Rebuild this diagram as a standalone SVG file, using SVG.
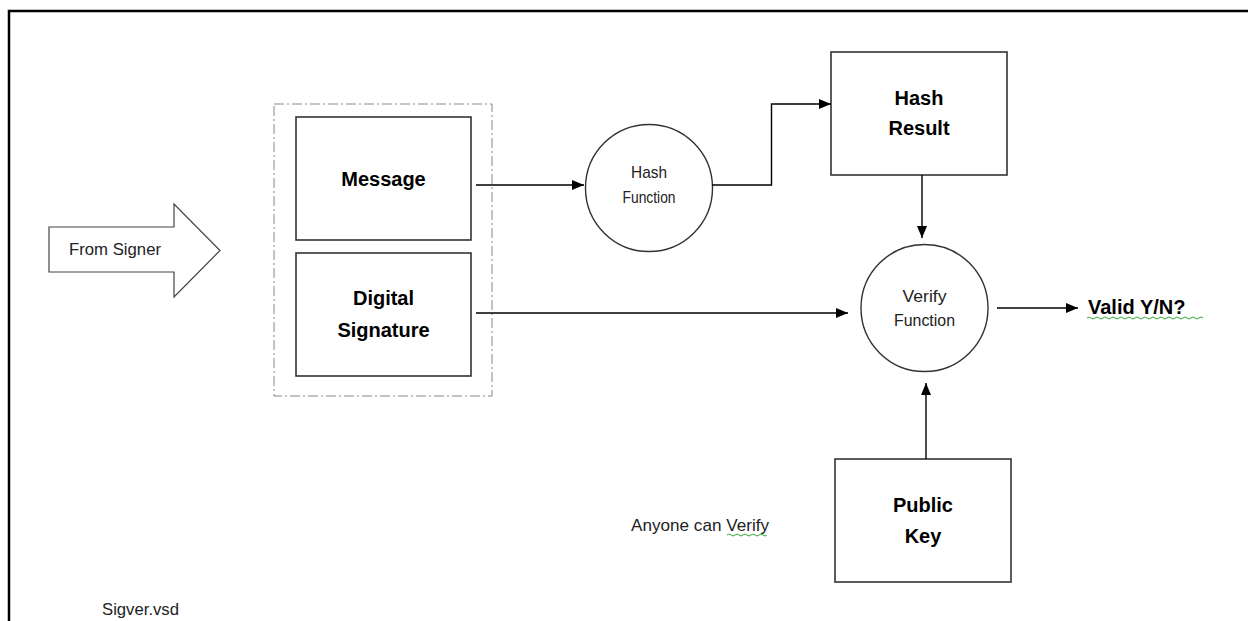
<svg xmlns="http://www.w3.org/2000/svg" width="1248" height="621" viewBox="0 0 1248 621">
<defs>
<marker id="ah" markerWidth="12" markerHeight="10" refX="12" refY="5" orient="auto" markerUnits="userSpaceOnUse">
<path d="M0,0 L12,5 L0,10 Z" fill="#000"/>
</marker>
<style>
.box{fill:#fff;stroke:#333;stroke-width:1.6}
.circ{fill:#fff;stroke:#333;stroke-width:1.4}
.bold{font-family:"Liberation Sans",Arial,sans-serif;font-weight:bold;font-size:20px;fill:#000;text-anchor:middle}
.reg{font-family:"Liberation Sans",Arial,sans-serif;font-size:17px;fill:#222}
.mid{text-anchor:middle}
.conn{fill:none;stroke:#000;stroke-width:1.4;marker-end:url(#ah)}
.squig{fill:none;stroke:#3a3;stroke-width:1}
</style>
</defs>
<rect width="1248" height="621" fill="#fff"/>
<path d="M9,640 L9,11 L1260,11" fill="none" stroke="#000" stroke-width="2.5"/>

<g id="from-signer">
<path d="M49,227 L174,227 L174,204 L220,250.5 L174,297 L174,272 L49,272 Z" fill="#fff" stroke="#444" stroke-width="1.2"/>
<text class="reg" x="69" y="255" font-size="17" textLength="92" lengthAdjust="spacingAndGlyphs">From Signer</text>
</g>

<g id="group-border">
<rect x="274" y="104" width="218" height="292" fill="none" stroke="#888" stroke-width="1" stroke-dasharray="10,3,2,3"/>
</g>

<g id="message">
<rect class="box" x="296" y="117" width="175" height="123"/>
<text class="bold" x="383.5" y="186">Message</text>
</g>

<g id="digital-signature">
<rect class="box" x="296" y="253" width="175" height="123"/>
<text class="bold" x="383.5" y="305">Digital</text>
<text class="bold" x="383.5" y="337">Signature</text>
</g>

<g id="hash-function">
<circle class="circ" cx="649" cy="188" r="63.5"/>
<text class="reg mid" x="649" y="178" textLength="36" lengthAdjust="spacingAndGlyphs">Hash</text>
<text class="reg mid" x="649" y="203" textLength="53" lengthAdjust="spacingAndGlyphs">Function</text>
</g>

<g id="hash-result">
<rect class="box" x="831" y="52" width="176" height="123"/>
<text class="bold" x="919" y="105">Hash</text>
<text class="bold" x="919" y="135">Result</text>
</g>

<g id="verify-function">
<circle class="circ" cx="924.5" cy="308" r="63.5"/>
<text class="reg mid" x="924.5" y="302" textLength="44" lengthAdjust="spacingAndGlyphs">Verify</text>
<text class="reg mid" x="924.5" y="326" textLength="61" lengthAdjust="spacingAndGlyphs">Function</text>
</g>

<g id="public-key">
<rect class="box" x="835" y="459" width="176" height="123"/>
<text class="bold" x="923" y="512">Public</text>
<text class="bold" x="923" y="543">Key</text>
</g>

<g id="valid">
<text class="bold" x="1088" y="314" style="text-anchor:start" font-size="19">Valid Y/N?</text>
<path class="squig" d="M1087,318 q2,-2 4,0 t4,0 t4,0 t4,0 t4,0 t4,0 t4,0 t4,0 t4,0 t4,0 t4,0 t4,0 t4,0 t4,0 t4,0 t4,0 t4,0 t4,0 t4,0 t4,0 t4,0 t4,0 t4,0 t4,0 t4,0 t4,0 t4,0 t4,0 t4,0"/>
</g>

<g id="anyone">
<text class="reg" x="631" y="531" font-size="18" textLength="138" lengthAdjust="spacingAndGlyphs">Anyone can Verify</text>
<path class="squig" d="M727,535 q2,-2 4,0 t4,0 t4,0 t4,0 t4,0 t4,0 t4,0 t4,0 t4,0 t4,0"/>
</g>

<g id="sigver">
<text class="reg" x="102" y="615" font-size="18" textLength="77" lengthAdjust="spacingAndGlyphs">Sigver.vsd</text>
</g>

<g id="connectors">
<path class="conn" d="M476,185 L584,185"/>
<path class="conn" d="M712,185 L771.5,185 L771.5,104 L831,104"/>
<path class="conn" d="M922,175 L922,238"/>
<path class="conn" d="M476,313 L848,313"/>
<path class="conn" d="M997,308 L1078,308"/>
<path class="conn" d="M926,459 L926,383"/>
</g>
</svg>
